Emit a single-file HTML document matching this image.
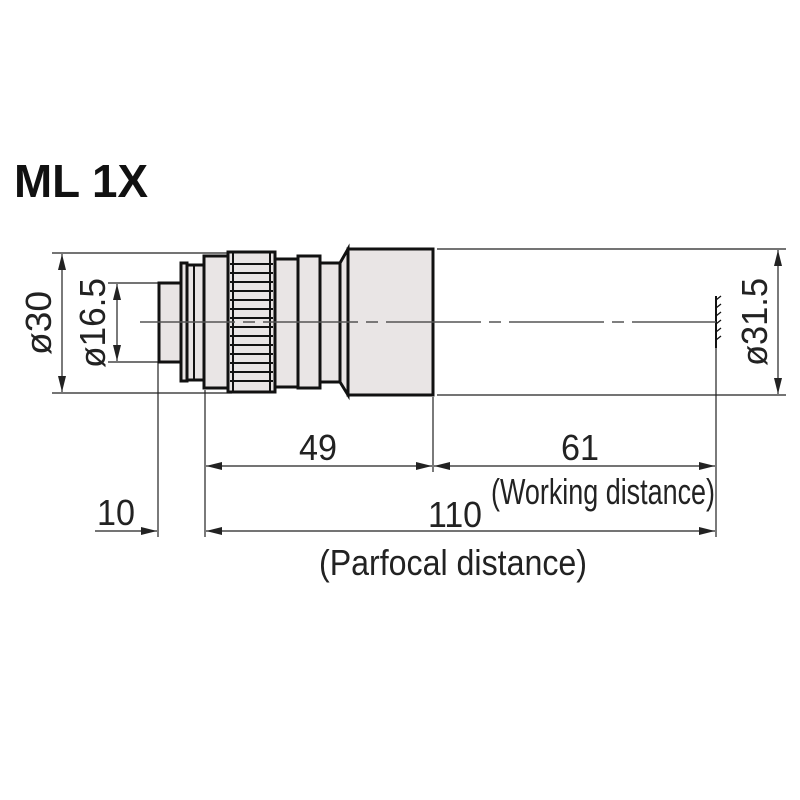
<!DOCTYPE html>
<html><head><style>body{margin:0;background:#fff}svg{display:block}</style></head><body>
<svg width="800" height="800" viewBox="0 0 800 800" xmlns="http://www.w3.org/2000/svg">
<defs>
<marker id="b" viewBox="0 0 16 8" refX="16" refY="4" markerWidth="16" markerHeight="8" orient="auto-start-reverse" markerUnits="userSpaceOnUse"><path d="M0,0 L16,4 L0,8 Z" fill="#222"/></marker>
</defs>
<rect width="800" height="800" fill="#fff"/>
<text x="14" y="197" font-family="Liberation Sans, sans-serif" font-weight="bold" font-size="46" fill="#111" textLength="134" lengthAdjust="spacingAndGlyphs">ML 1X</text>
<g stroke="#222" stroke-width="1.2" fill="none">
<line x1="52" y1="253" x2="232" y2="253"/>
<line x1="52" y1="393" x2="232" y2="393"/>
<line x1="108" y1="283" x2="158" y2="283"/>
<line x1="108" y1="362" x2="158" y2="362"/>
<line x1="437" y1="249" x2="786" y2="249"/>
<line x1="437" y1="395" x2="786" y2="395"/>
<line x1="158" y1="362" x2="158" y2="537"/>
<line x1="205" y1="390" x2="205" y2="537"/>
<line x1="433" y1="397" x2="433" y2="472"/>
<line x1="716" y1="297" x2="716" y2="537"/>
<line x1="62" y1="254" x2="62" y2="392" marker-start="url(#b)" marker-end="url(#b)"/>
<line x1="117" y1="284" x2="117" y2="361" marker-start="url(#b)" marker-end="url(#b)"/>
<line x1="778" y1="250" x2="778" y2="394" marker-start="url(#b)" marker-end="url(#b)"/>
<line x1="206" y1="466" x2="432" y2="466" marker-start="url(#b)" marker-end="url(#b)"/>
<line x1="434" y1="466" x2="715" y2="466" marker-start="url(#b)" marker-end="url(#b)"/>
<line x1="206" y1="531" x2="715" y2="531" marker-start="url(#b)" marker-end="url(#b)"/>
<line x1="95" y1="531" x2="157" y2="531" marker-end="url(#b)"/>
</g>
<g stroke="#111" stroke-width="3" fill="#e9e5e5">
<rect x="159" y="283" width="22" height="79"/>
<rect x="181" y="263" width="6" height="118"/>
<rect x="187" y="265" width="17" height="115"/>
<rect x="204" y="256" width="24" height="132"/>
<rect x="275" y="259" width="23" height="128"/>
<rect x="298" y="256" width="22" height="132"/>
<rect x="320" y="263" width="20" height="119"/>
<path d="M340,263 L348,249 L348,395 L340,382 Z"/>
<rect x="348" y="249" width="85" height="146"/>
<rect x="228" y="252" width="47" height="140"/>
</g>
<g stroke="#111" stroke-width="2">
<line x1="194" y1="265" x2="194" y2="380"/>
<line x1="233" y1="252" x2="233" y2="392"/>
<line x1="270" y1="252" x2="270" y2="392"/>
<line x1="230" y1="264" x2="273" y2="264"/><line x1="230" y1="273" x2="273" y2="273"/>
<line x1="230" y1="282" x2="273" y2="282"/><line x1="230" y1="291" x2="273" y2="291"/>
<line x1="230" y1="300" x2="273" y2="300"/><line x1="230" y1="309" x2="273" y2="309"/>
<line x1="230" y1="318" x2="273" y2="318"/><line x1="230" y1="327" x2="273" y2="327"/>
<line x1="230" y1="336" x2="273" y2="336"/><line x1="230" y1="345" x2="273" y2="345"/>
<line x1="230" y1="354" x2="273" y2="354"/><line x1="230" y1="363" x2="273" y2="363"/>
<line x1="230" y1="372" x2="273" y2="372"/><line x1="230" y1="381" x2="273" y2="381"/>
<line x1="716" y1="296" x2="716" y2="348"/>
</g>
<g stroke="#111" stroke-width="1.3">
<line x1="716" y1="300" x2="721" y2="296"/><line x1="716" y1="308" x2="721" y2="304"/>
<line x1="716" y1="316" x2="721" y2="312"/><line x1="716" y1="324" x2="721" y2="320"/>
<line x1="716" y1="332" x2="721" y2="328"/><line x1="716" y1="340" x2="721" y2="336"/>
</g>
<line x1="140" y1="322" x2="716" y2="322" stroke="#555" stroke-width="1.5" stroke-dasharray="95,8,12,8"/>
<g font-family="Liberation Sans, sans-serif" fill="#222" font-size="36">
<text transform="translate(51,323) rotate(-90)" text-anchor="middle" textLength="64" lengthAdjust="spacingAndGlyphs">ø30</text>
<text transform="translate(105,323) rotate(-90)" text-anchor="middle" textLength="90" lengthAdjust="spacingAndGlyphs">ø16.5</text>
<text transform="translate(767,322) rotate(-90)" text-anchor="middle" textLength="88" lengthAdjust="spacingAndGlyphs">ø31.5</text>
<text x="318" y="460" text-anchor="middle" textLength="38" lengthAdjust="spacingAndGlyphs">49</text>
<text x="580" y="460" text-anchor="middle" textLength="38" lengthAdjust="spacingAndGlyphs">61</text>
<text x="116" y="525" text-anchor="middle" textLength="38" lengthAdjust="spacingAndGlyphs">10</text>
<text x="455" y="527" text-anchor="middle" textLength="54" lengthAdjust="spacingAndGlyphs">110</text>
<text x="603" y="504" text-anchor="middle" textLength="224" lengthAdjust="spacingAndGlyphs">(Working distance)</text>
<text x="453" y="575" text-anchor="middle" textLength="268" lengthAdjust="spacingAndGlyphs">(Parfocal distance)</text>
</g>
</svg>
</body></html>
